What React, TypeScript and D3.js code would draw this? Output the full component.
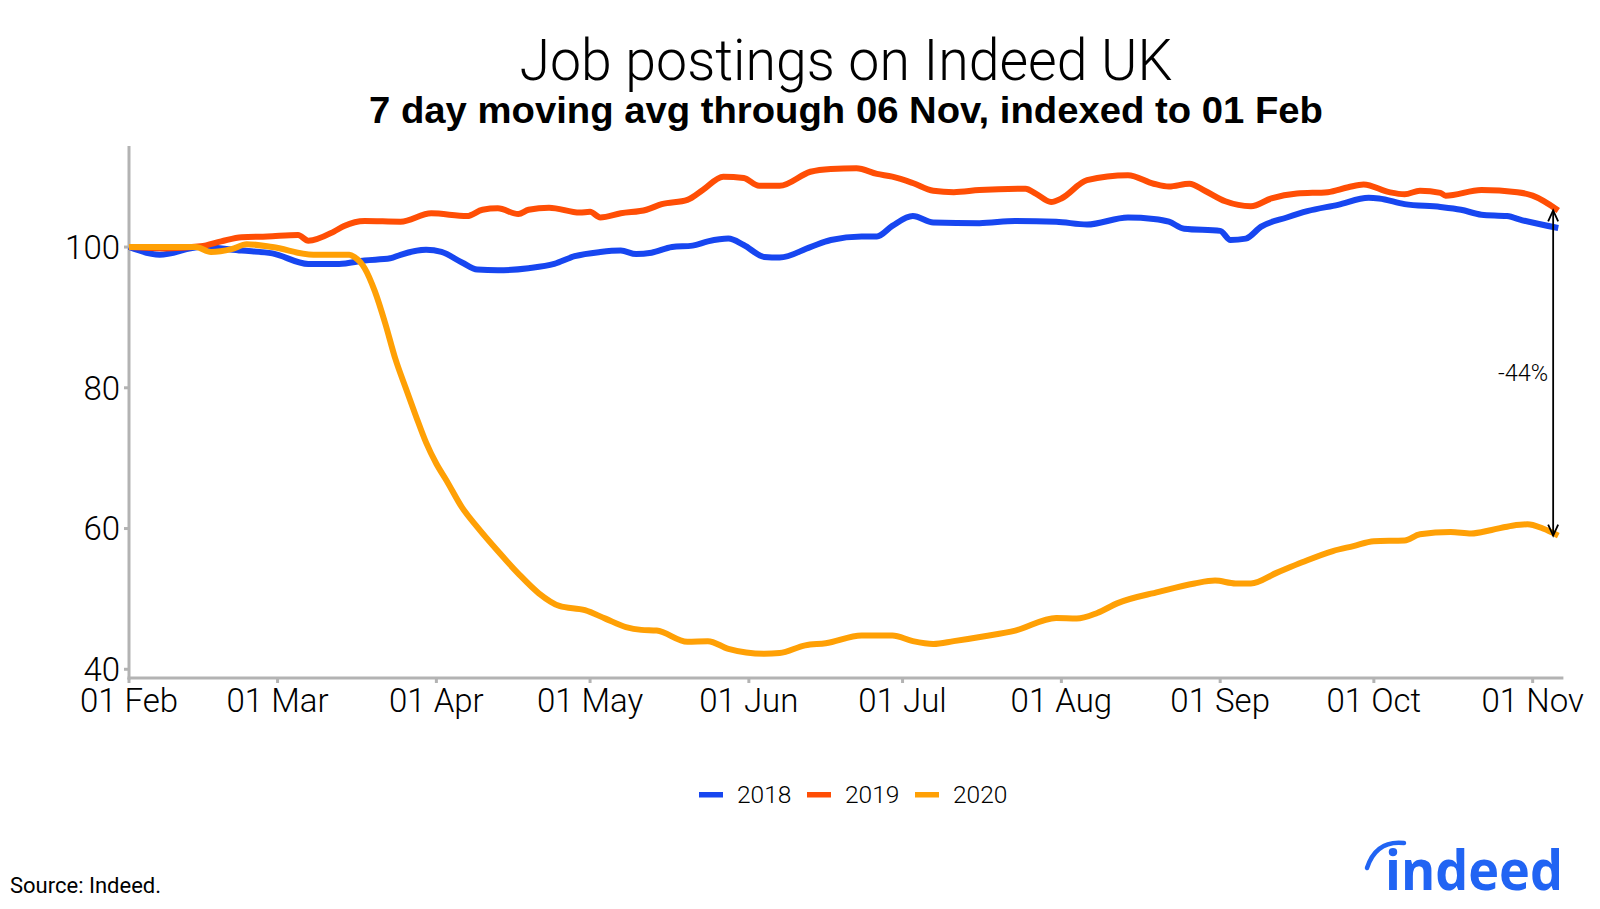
import React, { useEffect } from "react";
import * as d3 from "d3";

// ---- Data, 7 day moving avg indexed to 01 Feb ----
const dates2018 = ["02-01","02-07","02-15","02-23","02-29","03-07","03-13","03-18","03-23","03-25","03-30","04-02","04-06","04-09","04-13","04-19","04-24","04-28","05-03","05-07","05-10","05-13","05-17","05-21","05-24","05-28","05-31","06-04","06-07","06-13","06-17","06-23","06-26","06-29","07-03","07-07","07-16","07-23","07-31","08-06","08-14","08-19","08-22","08-25","09-01","09-03","09-06","09-09","09-14","09-18","09-24","09-30","10-02","10-07","10-14","10-18","10-22","10-27","10-30","11-06"];
const values2018 = [100,98.9,100.0,99.5,99.1,97.6,97.6,98.1,98.4,98.9,99.6,99.3,97.8,96.8,96.7,97.0,97.6,98.7,99.3,99.5,99.0,99.2,100.0,100.2,100.8,101.2,100.3,98.6,98.5,100.0,101.0,101.5,101.5,103.0,104.4,103.5,103.4,103.7,103.6,103.2,104.2,104.0,103.6,102.6,102.3,101.0,101.2,102.9,104.2,105.1,106.0,107.0,106.9,106.1,105.7,105.3,104.6,104.4,103.8,102.7];

const dates2019 = ["02-01","02-08","02-15","02-19","02-23","02-28","03-05","03-07","03-12","03-14","03-18","03-25","03-31","04-07","04-10","04-13","04-17","04-19","04-23","04-29","05-01","05-03","05-07","05-12","05-15","05-20","05-23","05-27","05-31","06-03","06-07","06-13","06-17","06-22","06-26","06-29","07-03","07-07","07-11","07-16","07-25","07-27","07-30","08-01","08-06","08-14","08-19","08-22","08-26","08-29","09-02","09-07","09-11","09-16","09-22","09-26","09-29","10-04","10-07","10-10","10-14","10-15","10-22","10-29","11-01","11-06"];
const values2019 = [100,99.8,100.1,100.8,101.4,101.5,101.7,100.9,102.2,103.0,103.7,103.6,104.8,104.4,105.3,105.5,104.7,105.3,105.6,104.9,105.0,104.2,104.8,105.3,106.1,106.7,108.1,110.0,109.8,108.7,108.7,110.7,111.1,111.2,110.4,110.0,109.1,108.0,107.8,108.1,108.3,107.6,106.4,106.9,109.5,110.2,109.0,108.6,109.0,108.0,106.5,105.8,106.9,107.6,107.8,108.5,108.9,107.8,107.5,108.0,107.7,107.3,108.1,107.8,107.3,105.2];

const dates2020 = ["02-01","02-08","02-14","02-17","02-21","02-24","02-29","03-08","03-12","03-15","03-16","03-18","03-20","03-22","03-24","03-26","03-28","03-30","04-01","04-03","04-06","04-09","04-13","04-17","04-21","04-25","04-30","05-04","05-08","05-11","05-14","05-20","05-24","05-28","06-04","06-07","06-12","06-16","06-23","06-29","07-03","07-07","07-11","07-17","07-23","07-31","08-04","08-08","08-12","08-20","08-27","08-31","09-04","09-07","09-12","09-17","09-23","09-27","10-01","10-07","10-10","10-16","10-20","10-24","10-28","10-31","11-03","11-06"];
const values2020 = [100,100,100,99.3,99.7,100.4,100,98.9,98.9,98.9,98.6,97.0,93.7,89.2,84.1,80.0,76.0,72.2,69.2,66.8,63.0,60.2,56.8,53.6,50.8,49.0,48.4,47.2,46.0,45.6,45.5,43.9,44.0,42.9,42.2,42.3,43.4,43.7,44.8,44.8,44.0,43.6,44.0,44.7,45.5,47.3,47.2,48.0,49.4,51.0,52.2,52.6,52.2,52.2,53.7,55.2,56.8,57.5,58.2,58.3,59.2,59.5,59.3,59.8,60.4,60.6,60.0,59.0];

const seriesNames = ["2018", "2019", "2020"];
const seriesColors = ["#1746F0", "#FF4E05", "#FFA005"];

const xTickDates = ["02-01","03-01","04-01","05-01","06-01","07-01","08-01","09-01","10-01","11-01"];
const xTickLabels = ["01 Feb","01 Mar","01 Apr","01 May","01 Jun","01 Jul","01 Aug","01 Sep","01 Oct","01 Nov"];
const yTicks = [40, 60, 80, 100];
const yTickLabels = ["40", "60", "80", "100"];

const annotationDate = "11-05";
const annotationTop = 105.2;
const annotationBottom = 59.0;
const annotationLabel = "-44%";

const titleText = "Job postings on Indeed UK";
const subtitleText = "7 day moving avg through 06 Nov, indexed to 01 Feb";
const sourceText = "Source: Indeed.";

const parse = (md: string) => d3.utcParse("%Y-%m-%d")("2020-" + md) as Date;

const LIGHT = "'Helvetica Neue', Roboto, 'Liberation Sans', Arial, sans-serif";
const BOLD = "'Helvetica Neue', 'Liberation Sans', Arial, sans-serif";

export default function App() {
  useEffect(() => {
    document.body.style.margin = "0";
  }, []);

  const W = 1600, H = 909;
  const left = 129, right = 1563.4, top = 146, bottom = 678;

  const x = d3.scaleUtc().domain([parse("02-01"), parse("11-07")]).range([left, right]);
  const y = d3.scaleLinear().domain([38.76, 114.36]).range([bottom, top]);

  const allDates = [dates2018, dates2019, dates2020];
  const allValues = [values2018, values2019, values2020];
  const line = d3
    .line<[Date, number]>()
    .x((d) => x(d[0]))
    .y((d) => y(d[1]))
    .curve(d3.curveMonotoneX);

  const paths = allDates.map((ds, i) =>
    line(ds.map((d, j) => [parse(d), allValues[i][j]] as [Date, number]))
  );

  const ax = x(parse(annotationDate));
  const ay1 = y(annotationTop);
  const ay2 = y(annotationBottom);
  const ah = 11, aw = 5;

  const axisColor = "#B3B3B3";

  const legendSwatchX = [699, 807, 915];

  return (
    <svg width={W} height={H} style={{ display: "block", background: "#fff" }}>
      {/* Title */}
      <text x={846} y={80} textAnchor="middle" fontFamily={LIGHT} fontWeight={300} fontSize={58} textLength={653} lengthAdjust="spacingAndGlyphs" fill="#000">
        {titleText}
      </text>
      <text x={846} y={123} textAnchor="middle" fontFamily={BOLD} fontWeight={700} fontSize={36} textLength={954} lengthAdjust="spacingAndGlyphs" fill="#000">
        {subtitleText}
      </text>

      {/* Axes */}
      <line x1={left} x2={left} y1={top} y2={bottom + 1.5} stroke={axisColor} strokeWidth={3} />
      <line x1={left - 1.5} x2={right} y1={bottom} y2={bottom} stroke={axisColor} strokeWidth={3} />
      {yTicks.map((t, i) => (
        <g key={t}>
          <line x1={left - 5} x2={left} y1={y(t)} y2={y(t)} stroke={axisColor} strokeWidth={3} />
          <text x={left - 9} y={y(t)} dy="0.36em" textAnchor="end" fontFamily={LIGHT} fontWeight={300} fontSize={33} fill="#000">
            {yTickLabels[i]}
          </text>
        </g>
      ))}
      {xTickDates.map((d, i) => (
        <g key={d}>
          <line x1={x(parse(d))} x2={x(parse(d))} y1={bottom} y2={bottom + 5} stroke={axisColor} strokeWidth={3} />
          <text x={x(parse(d))} y={712} textAnchor="middle" fontFamily={LIGHT} fontWeight={300} fontSize={33} fill="#000">
            {xTickLabels[i]}
          </text>
        </g>
      ))}

      {/* Lines */}
      {paths.map((p, i) => (
        <path key={seriesNames[i]} d={p || ""} fill="none" stroke={seriesColors[i]} strokeWidth={6} strokeLinejoin="round" />
      ))}

      {/* Annotation arrow */}
      <g stroke="#000" strokeWidth={1.8} fill="none">
        <line x1={ax} x2={ax} y1={ay1} y2={ay2} />
        <path d={`M${ax - aw},${ay1 + ah} L${ax},${ay1} L${ax + aw},${ay1 + ah}`} />
        <path d={`M${ax - aw},${ay2 - ah} L${ax},${ay2} L${ax + aw},${ay2 - ah}`} />
      </g>
      <text x={ax - 5} y={(ay1 + ay2) / 2} dy="0.36em" textAnchor="end" fontFamily={LIGHT} fontWeight={300} fontSize={23.5} fill="#000">
        {annotationLabel}
      </text>

      {/* Legend */}
      {seriesNames.map((n, i) => (
        <g key={n}>
          <rect x={legendSwatchX[i]} y={792} width={24} height={5.5} fill={seriesColors[i]} />
          <text x={legendSwatchX[i] + 38} y={803} fontFamily={LIGHT} fontWeight={300} fontSize={24.5} fill="#000">
            {n}
          </text>
        </g>
      ))}

      {/* Source */}
      <text x={10} y={893} fontFamily={LIGHT} fontWeight={400} fontSize={22} fill="#000">
        {sourceText}
      </text>

      {/* Indeed logo */}
      <g fill="#2164F3">
        <path d="M1367,868 Q1376,840 1404,843" stroke="#2164F3" strokeWidth={4.5} fill="none" strokeLinecap="round" />
        <text x={1385} y={890} fontFamily="'Open Sans', 'Noto Sans', sans-serif" fontWeight={700} fontSize={56} textLength={178} lengthAdjust="spacingAndGlyphs">
          indeed
        </text>
      </g>
    </svg>
  );
}
